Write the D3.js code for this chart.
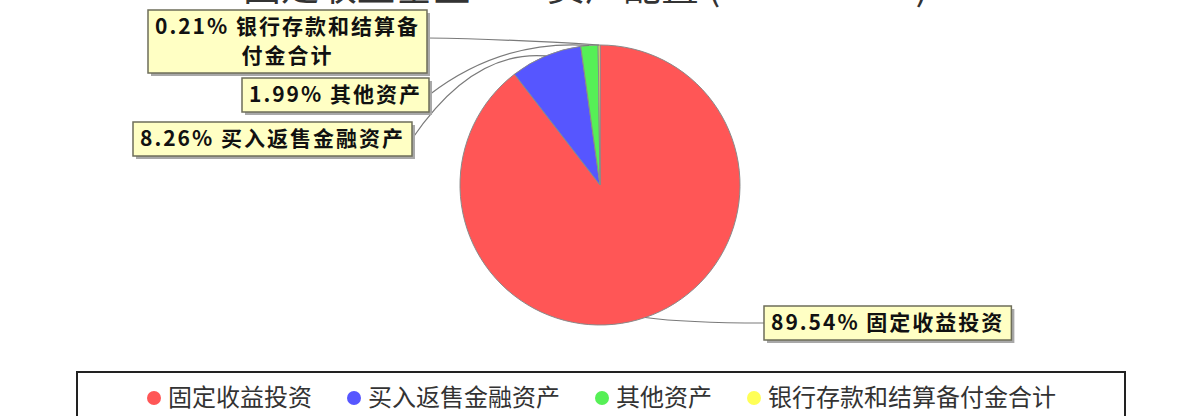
<!DOCTYPE html>
<html>
<head>
<meta charset="utf-8">
<script src="https://d3js.org/d3.v7.min.js"></script>
<style>
    body { margin:0; background:#fff; }
    svg text { font-family:"Noto Sans CJK SC", "Noto Sans", sans-serif; }
</style>
</head>
<body>
<svg id="chart"></svg>
<script>
    // asset allocation data
    var categories = ["固定收益投资", "买入返售金融资产", "其他资产", "银行存款和结算备付金合计"];
    var shares = [89.54, 8.26, 1.99, 0.21];
    var colors = ["#ff5656", "#5656ff", "#56f056", "#ffff56"];
    var titleText = "固定收益基金\u3000\u3000资产配置 (2023-06-30)";

    var screen = {width:1200, height:416};
    var svg = d3.select("#chart")
        .attr("width", screen.width)
        .attr("height", screen.height);

    var center = {x:600, y:185};
    var radius = 140;

    // title, mostly cut off by the top edge
    svg.append("text")
        .attr("x", 243)
        .attr("y", 0)
        .attr("font-size", 38)
        .attr("fill", "#333")
        .text(titleText);

    var pie = d3.pie().sort(null).value(function(d){ return d; });
    var arcs = pie(shares);
    var arc = d3.arc().innerRadius(0).outerRadius(radius);

    var g = svg.append("g")
        .attr("transform", "translate(" + center.x + "," + center.y + ")");

    g.selectAll("path")
        .data(arcs)
        .enter()
        .append("path")
        .attr("d", arc)
        .attr("fill", function(d, i){ return colors[i]; })
        .attr("stroke", "#8a8a8a")
        .attr("stroke-width", 1);

    // label boxes: where each callout sits (top-left corner) and how it bends
    var boxes = [
        {x:764, y:306, side:"left"},
        {x:133, y:122, side:"right"},
        {x:242, y:78, side:"right"},
        {x:148, y:10, side:"right"}
    ];
    var maxWidth = 280;

    var labels = svg.append("g");

    arcs.forEach(function(d, i)
    {
        var box = boxes[i];
        var full = shares[i].toFixed(2) + "% " + categories[i];
        var lg = labels.append("g");

        // wrap text by measured width
        var probe = lg.append("text")
            .attr("font-size", 21)
            .attr("font-weight", "bold")
            .attr("letter-spacing", 2);
        var lines = [];
        var line = "";
        for (var k = 0; k < full.length; k++)
        {
            probe.text(line + full[k]);
            if (probe.node().getComputedTextLength() > maxWidth && line.length > 0)
            {
                lines.push(line);
                line = full[k];
            }
            else
            {
                line = line + full[k];
            }
        }
        lines.push(line);
        probe.remove();

        var lineH = 29;
        var w = 0;
        var texts = lines.map(function(t, j)
        {
            var el = lg.append("text")
                .attr("font-size", 21)
                .attr("font-weight", "bold")
                .attr("letter-spacing", 2)
                .attr("fill", "#111")
                .text(t);
            w = Math.max(w, el.node().getComputedTextLength());
            return el;
        });
        var bw = w + 14;
        var bh = lines.length * lineH + 5;

        lg.insert("rect", "text")
            .attr("x", box.x + 3)
            .attr("y", box.y + 3)
            .attr("width", bw)
            .attr("height", bh)
            .attr("fill", "#a8a8a8");
        lg.insert("rect", "text")
            .attr("x", box.x)
            .attr("y", box.y)
            .attr("width", bw)
            .attr("height", bh)
            .attr("fill", "#ffffc4")
            .attr("stroke", "#6e6e5a")
            .attr("stroke-width", 1.5);
        texts.forEach(function(el, j)
        {
            el.attr("x", box.x + bw / 2)
              .attr("y", box.y + (j + 1) * lineH - 5)
              .attr("text-anchor", "middle");
        });

        // leader line from slice edge to box
        var mid = (d.startAngle + d.endAngle) / 2;
        var sx = center.x + Math.sin(mid) * radius;
        var sy = center.y - Math.cos(mid) * radius;
        var ex, ey, cx, cy;
        if (box.side == "left")
        {
            ex = box.x;
            ey = box.y + bh / 2;
            cx = sx + 40;
            cy = ey;
        }
        else
        {
            ex = box.x + bw;
            ey = box.y + Math.min(bh / 2, 28);
            cx = ex + (sx - ex) * 0.45;
            cy = sy - 6;
        }
        labels.insert("path", "g")
            .attr("d", "M" + sx + "," + sy + " Q" + cx + "," + cy + " " + ex + "," + ey)
            .attr("fill", "none")
            .attr("stroke", "#7a7a7a")
            .attr("stroke-width", 1.2);
    });

    // legend
    var legendBox = {x:77, y:372, width:1048, height:60};
    svg.append("rect")
        .attr("x", legendBox.x)
        .attr("y", legendBox.y)
        .attr("width", legendBox.width)
        .attr("height", legendBox.height)
        .attr("fill", "#fff")
        .attr("stroke", "#222")
        .attr("stroke-width", 2);

    var legend = svg.append("g");
    var items = categories.map(function(c, i)
    {
        var ig = legend.append("g");
        ig.append("circle")
            .attr("cx", 8)
            .attr("cy", 0)
            .attr("r", 7)
            .attr("fill", colors[i]);
        var t = ig.append("text")
            .attr("x", 22)
            .attr("y", 8)
            .attr("font-size", 24)
            .attr("fill", "#333")
            .text(c);
        return {g:ig, w:22 + t.node().getComputedTextLength()};
    });
    var gap = 34;
    var total = d3.sum(items, function(d){ return d.w; }) + gap * (items.length - 1);
    var lx = legendBox.x + (legendBox.width - total) / 2;
    items.forEach(function(it)
    {
        it.g.attr("transform", "translate(" + lx + ",398)");
        lx += it.w + gap;
    });
</script>
</body>
</html>
